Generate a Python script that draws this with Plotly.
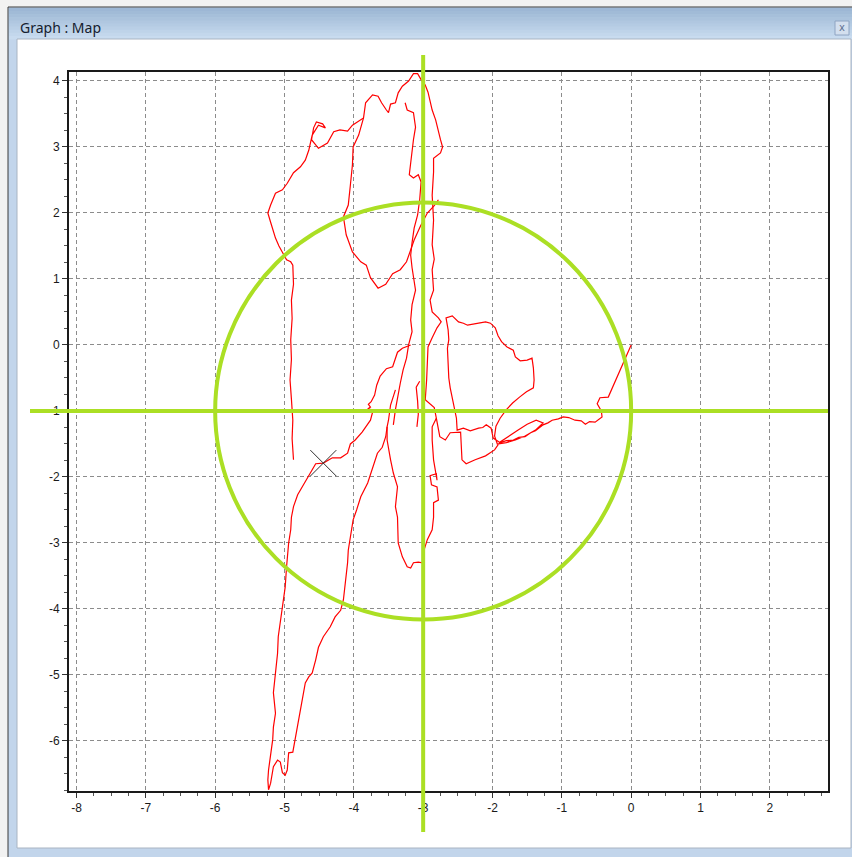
import numpy as np
import plotly.graph_objects as go

# ---------------- data ----------------
x_tick_values = [-8, -7, -6, -5, -4, -3, -2, -1, 0, 1, 2]
x_tick_labels = ["-8", "-7", "-6", "-5", "-4", "-3", "-2", "-1", "0", "1", "2"]
y_tick_values = [4, 3, 2, 1, 0, -1, -2, -3, -4, -5, -6]
y_tick_labels = ["4", "3", "2", "1", "0", "-1", "-2", "-3", "-4", "-5", "-6"]

target_center = (-3.0, -1.0)
target_radius_x = 3.0
target_radius_y = 3.16
cross_marker = (-4.44, -1.79)

track_east = [(0, 0), (-0.33, -0.79), (-0.45, -0.80), (-0.49, -0.89), (-0.43, -1.00), (-0.42, -1.09),
              (-0.52, -1.17), (-0.60, -1.16), (-0.66, -1.20), (-0.72, -1.15), (-0.81, -1.14), (-0.90, -1.10),
              (-0.98, -1.09), (-1.05, -1.12), (-1.14, -1.14), (-1.20, -1.18), (-1.27, -1.21),
              (-1.38, -1.30), (-1.45, -1.33), (-1.53, -1.39), (-1.62, -1.40), (-1.70, -1.44), (-1.80, -1.45),
              (-1.89, -1.48), (-1.99, -1.41), (-2.02, -1.26),
              (-2.09, -1.21), (-2.14, -1.25), (-2.20, -1.26), (-2.32, -1.30), (-2.42, -1.26), (-2.51, -1.29)]

track_east_loop = [(-2.52, -1.11), (-2.56, -0.91), (-2.58, -0.78), (-2.61, -0.65), (-2.63, -0.50), (-2.64, -0.35),
                   (-2.65, -0.05), (-2.63, 0.08), (-2.64, 0.23),
                   (-2.67, 0.41), (-2.58, 0.44), (-2.49, 0.35), (-2.42, 0.33), (-2.36, 0.30), (-2.27, 0.32),
                   (-2.18, 0.33), (-2.10, 0.35), (-2.03, 0.33),
                   (-1.96, 0.26), (-1.92, 0.14), (-1.87, 0.05), (-1.79, -0.03), (-1.70, -0.08), (-1.67, -0.18),
                   (-1.60, -0.24), (-1.50, -0.23), (-1.43, -0.20), (-1.41, -0.35), (-1.40, -0.53), (-1.41, -0.65),
                   (-1.51, -0.71), (-1.61, -0.79), (-1.71, -0.88), (-1.80, -0.98), (-1.89, -1.11), (-1.95, -1.23),
                   (-1.97, -1.38), (-1.93, -1.50), (-1.80, -1.48), (-1.67, -1.44), (-1.53, -1.38), (-1.38, -1.29),
                   (-1.27, -1.18), (-1.37, -1.14), (-1.50, -1.20), (-1.63, -1.29), (-1.77, -1.38), (-1.89, -1.47),
                   (-1.97, -1.59), (-2.10, -1.68), (-2.25, -1.74), (-2.38, -1.80), (-2.44, -1.74), (-2.45, -1.52),
                   (-2.46, -1.32), (-2.61, -1.33), (-2.68, -1.44), (-2.76, -1.39), (-2.78, -1.26), (-2.81, -1.11),
                   (-2.84, -0.95), (-2.90, -0.89), (-2.97, -0.83)]

track_north = [(-2.95, -0.53), (-2.94, -0.23), (-2.93, -0.03), (-2.87, 0.11), (-2.80, 0.26), (-2.74, 0.35),
               (-2.78, 0.41), (-2.87, 0.50), (-2.90, 0.68), (-2.85, 0.83), (-2.87, 1.14), (-2.84, 1.30),
               (-2.87, 1.52), (-2.85, 1.89), (-2.87, 2.27), (-2.85, 2.62), (-2.85, 2.83), (-2.75, 2.91),
               (-2.72, 3.00), (-2.75, 3.11), (-2.78, 3.23), (-2.82, 3.41), (-2.87, 3.56), (-2.90, 3.71),
               (-2.93, 3.83), (-2.97, 3.94), (-3.03, 4.02), (-3.08, 4.11), (-3.14, 4.11), (-3.21, 4.00),
               (-3.30, 3.92), (-3.36, 3.82), (-3.40, 3.67), (-3.47, 3.65), (-3.50, 3.52), (-3.53, 3.56),
               (-3.60, 3.67), (-3.65, 3.77), (-3.73, 3.79), (-3.83, 3.67), (-3.86, 3.44), (-4.02, 3.33),
               (-4.09, 3.24), (-4.20, 3.26), (-4.29, 3.23), (-4.38, 3.06), (-4.51, 2.98), (-4.61, 3.11),
               (-4.58, 3.29), (-4.54, 3.38), (-4.45, 3.35), (-4.41, 3.29), (-4.51, 3.33), (-4.60, 3.18),
               (-4.65, 2.95), (-4.70, 2.80), (-4.77, 2.70), (-4.87, 2.61), (-4.96, 2.45), (-5.03, 2.35),
               (-5.13, 2.30), (-5.20, 2.12), (-5.24, 2.00), (-5.20, 1.86), (-5.13, 1.62), (-5.08, 1.50),
               (-5.01, 1.36), (-4.97, 1.29), (-4.91, 1.26), (-4.88, 1.21), (-4.87, 0.92), (-4.90, 0.68),
               (-4.89, 0.40), (-4.91, 0.08), (-4.90, -0.22), (-4.92, -0.53), (-4.90, -0.82), (-4.88, -1.14),
               (-4.89, -1.42), (-4.87, -1.74)]

track_inner_loop = [(-3.86, 3.44), (-3.93, 3.18), (-4.01, 3.00), (-4.02, 2.73), (-4.05, 2.42), (-4.08, 2.12),
                    (-4.15, 1.94), (-4.11, 1.67), (-4.02, 1.41), (-3.90, 1.26), (-3.82, 1.21), (-3.76, 1.02),
                    (-3.65, 0.86), (-3.54, 0.92), (-3.44, 1.08), (-3.33, 1.14), (-3.24, 1.26), (-3.18, 1.44),
                    (-3.13, 1.59), (-3.04, 1.80), (-2.94, 2.00), (-2.84, 2.11), (-2.78, 2.20)]

track_center = [(-3.26, 3.67), (-3.23, 3.56), (-3.14, 3.52), (-3.11, 3.30), (-3.14, 3.11), (-3.17, 2.83),
                (-3.20, 2.58), (-3.14, 2.53), (-3.07, 2.58), (-3.03, 2.47), (-3.05, 2.20), (-3.08, 1.97),
                (-3.13, 1.77), (-3.16, 1.55), (-3.18, 1.36), (-3.16, 1.17), (-3.11, 0.83), (-3.16, 0.61),
                (-3.18, 0.38), (-3.16, 0.20), (-3.21, 0.00), (-3.24, -0.20), (-3.29, -0.38), (-3.33, -0.58),
                (-3.37, -0.79), (-3.40, -0.98), (-3.43, -1.21)]

track_southwest = [(-3.18, 0.00), (-3.30, -0.05), (-3.37, -0.11), (-3.44, -0.33), (-3.53, -0.36), (-3.62, -0.47),
                   (-3.67, -0.61), (-3.70, -0.76), (-3.75, -0.86), (-3.79, -0.90), (-3.76, -0.94), (-3.80, -0.97),
                   (-3.72, -0.98), (-3.76, -1.14), (-3.88, -1.32), (-3.98, -1.44), (-4.05, -1.50), (-4.09, -1.64),
                   (-4.19, -1.71), (-4.31, -1.71), (-4.44, -1.79), (-4.55, -1.80), (-4.60, -1.89), (-4.67, -2.02),
                   (-4.74, -2.14), (-4.81, -2.27), (-4.87, -2.45), (-4.90, -2.61), (-4.91, -2.80), (-4.94, -3.00),
                   (-4.97, -3.36), (-4.99, -3.67), (-5.03, -3.97), (-5.09, -4.42), (-5.10, -4.67), (-5.13, -5.03),
                   (-5.16, -5.27), (-5.13, -5.58), (-5.16, -5.79), (-5.17, -5.98), (-5.20, -6.18), (-5.23, -6.44),
                   (-5.24, -6.59), (-5.23, -6.74), (-5.20, -6.64), (-5.17, -6.48), (-5.16, -6.39), (-5.10, -6.29),
                   (-5.06, -6.32), (-5.03, -6.48), (-4.99, -6.52), (-4.96, -6.44), (-4.94, -6.18), (-4.88, -6.17),
                   (-4.84, -5.94), (-4.80, -5.68), (-4.74, -5.38), (-4.70, -5.12), (-4.65, -5.03), (-4.60, -4.97),
                   (-4.55, -4.77), (-4.51, -4.58), (-4.44, -4.42), (-4.34, -4.27), (-4.27, -4.12), (-4.19, -4.02),
                   (-4.15, -3.86), (-4.12, -3.61), (-4.09, -3.30), (-4.08, -3.11), (-4.05, -2.91), (-4.01, -2.65),
                   (-3.96, -2.50), (-3.90, -2.30), (-3.80, -2.09), (-3.72, -1.85), (-3.66, -1.64), (-3.59, -1.55),
                   (-3.54, -1.39), (-3.52, -1.24), (-3.50, -1.14), (-3.47, -0.91), (-3.40, -0.68)]

track_south = [(-3.52, -1.24), (-3.52, -1.44), (-3.47, -1.74), (-3.43, -1.94), (-3.37, -2.15), (-3.40, -2.45),
               (-3.37, -2.61), (-3.37, -2.80), (-3.36, -3.00), (-3.30, -3.21), (-3.23, -3.36), (-3.18, -3.38),
               (-3.14, -3.30), (-3.07, -3.29), (-3.01, -3.30), (-3.00, -3.15), (-2.94, -2.95), (-2.87, -2.80),
               (-2.85, -2.61), (-2.85, -2.39), (-2.78, -2.35), (-2.80, -2.15), (-2.88, -2.12), (-2.90, -1.98),
               (-2.81, -1.95), (-2.80, -2.05), (-2.85, -1.74), (-2.87, -1.44), (-2.87, -1.24), (-2.81, -1.11)]

track_mid = [(-3.05, -0.55), (-3.10, -0.64), (-3.08, -0.85), (-3.07, -1.05), (-3.09, -1.24)]

segments = [track_east + track_east_loop + track_north, track_inner_loop, track_center,
            track_southwest, track_south, track_mid]

# ---------------- figure ----------------
W, H = 852, 857
def px(x):
    return x / W
def py(y):
    return 1 - y / H

tx, ty = [], []
for seg in segments:
    for (a, b) in seg:
        tx.append(a)
        ty.append(b)
    tx.append(None)
    ty.append(None)

GREEN = "#abdf24"
fig = go.Figure()
fig.add_trace(go.Scatter(x=tx, y=ty, mode="lines", line=dict(color="#ff0000", width=1.2),
                         connectgaps=False, hoverinfo="skip", showlegend=False))
fig.add_trace(go.Scatter(x=[cross_marker[0]], y=[cross_marker[1]], mode="markers",
                         marker=dict(symbol="x-thin", size=26, line=dict(width=1, color="#303030")),
                         hoverinfo="skip", showlegend=False))

shapes = []
# window frame
shapes.append(dict(type="rect", xref="paper", yref="paper", x0=px(8), x1=px(853), y0=py(858), y1=py(7),
                   fillcolor="#c2d5eb", line=dict(color="#3a3a3a", width=1), layer="below"))
top_c = np.array([0x9d, 0xb7, 0xd5])
bot_c = np.array([0xc8, 0xdb, 0xef])
nb = 10
for i in range(nb):
    c = top_c + (bot_c - top_c) * i / (nb - 1)
    y0 = 8 + i * 31 / nb
    shapes.append(dict(type="rect", xref="paper", yref="paper", x0=px(9), x1=px(852),
                       y0=py(y0 + 31 / nb + 0.5), y1=py(y0),
                       fillcolor="rgb(%d,%d,%d)" % tuple(c.astype(int)), line=dict(width=0), layer="below"))
shapes.append(dict(type="rect", xref="paper", yref="paper", x0=px(17), x1=px(851), y0=py(848), y1=py(39),
                   fillcolor="#ffffff", line=dict(color="#a9b4c2", width=1), layer="below"))
# close button
shapes.append(dict(type="rect", xref="paper", yref="paper", x0=px(835), x1=px(849), y0=py(35), y1=py(21),
                   fillcolor="#d3dfee", line=dict(color="#8fa4c2", width=1), layer="below"))
# green target
shapes.append(dict(type="circle", xref="x", yref="y",
                   x0=target_center[0] - target_radius_x, x1=target_center[0] + target_radius_x,
                   y0=target_center[1] - target_radius_y, y1=target_center[1] + target_radius_y,
                   line=dict(color=GREEN, width=4), layer="above"))
shapes.append(dict(type="line", xref="x", yref="paper", x0=target_center[0], x1=target_center[0],
                   y0=py(832), y1=py(55), line=dict(color=GREEN, width=4), layer="above"))
shapes.append(dict(type="line", xref="paper", yref="y", x0=px(30), x1=px(828),
                   y0=target_center[1], y1=target_center[1], line=dict(color=GREEN, width=4), layer="above"))

annotations = [
    dict(text="Graph : Map", xref="paper", yref="paper", x=px(18), y=py(27), xanchor="left", yanchor="middle",
         showarrow=False, font=dict(family="Noto Sans, Open Sans, sans-serif", size=14, color="#15202e")),
    dict(text="x", xref="paper", yref="paper", x=px(842), y=py(27.5), xanchor="center", yanchor="middle",
         showarrow=False, font=dict(family="DejaVu Sans", size=10, color="#5f7291")),
]

minor_x = [v for v in np.arange(-8, 2.8, 0.25)]
minor_y = [v for v in np.arange(-6.75, 4.1, 0.25)]
tick_font = dict(family="Liberation Sans, Arial, sans-serif", size=12, color="#1a1a1a")

fig.update_layout(
    width=W, height=H, margin=dict(l=0, r=0, t=0, b=0),
    paper_bgcolor="#f2f2f2", plot_bgcolor="#ffffff",
    shapes=shapes, annotations=annotations, showlegend=False,
    xaxis=dict(domain=[px(69), px(828)], range=[-8.108, 2.839], tickmode="array",
               tickvals=x_tick_values, ticktext=x_tick_labels, ticks="outside", ticklen=5,
               tickcolor="#333333", tickwidth=1, showline=True, linecolor="#1a1a1a", linewidth=2,
               mirror=True, showgrid=True, gridcolor="#8c8c8c", gridwidth=1, griddash="4px,3px",
               zeroline=False, tickfont=tick_font, fixedrange=True,
               minor=dict(tickmode="array", tickvals=minor_x, ticks="outside", ticklen=3,
                          tickcolor="#555555", showgrid=False)),
    yaxis=dict(domain=[py(791), py(72)], range=[-6.758, 4.136], tickmode="array",
               tickvals=y_tick_values, ticktext=y_tick_labels, ticks="outside", ticklen=5,
               tickcolor="#333333", tickwidth=1, showline=True, linecolor="#1a1a1a", linewidth=2,
               mirror=True, showgrid=True, gridcolor="#8c8c8c", gridwidth=1, griddash="4px,3px",
               zeroline=False, tickfont=tick_font, fixedrange=True,
               minor=dict(tickmode="array", tickvals=minor_y, ticks="outside", ticklen=3,
                          tickcolor="#555555", showgrid=False)),
)

fig.write_html("out.html", config={"displayModeBar": False},
               post_script="document.body.style.margin='0';document.body.style.overflow='hidden';")
